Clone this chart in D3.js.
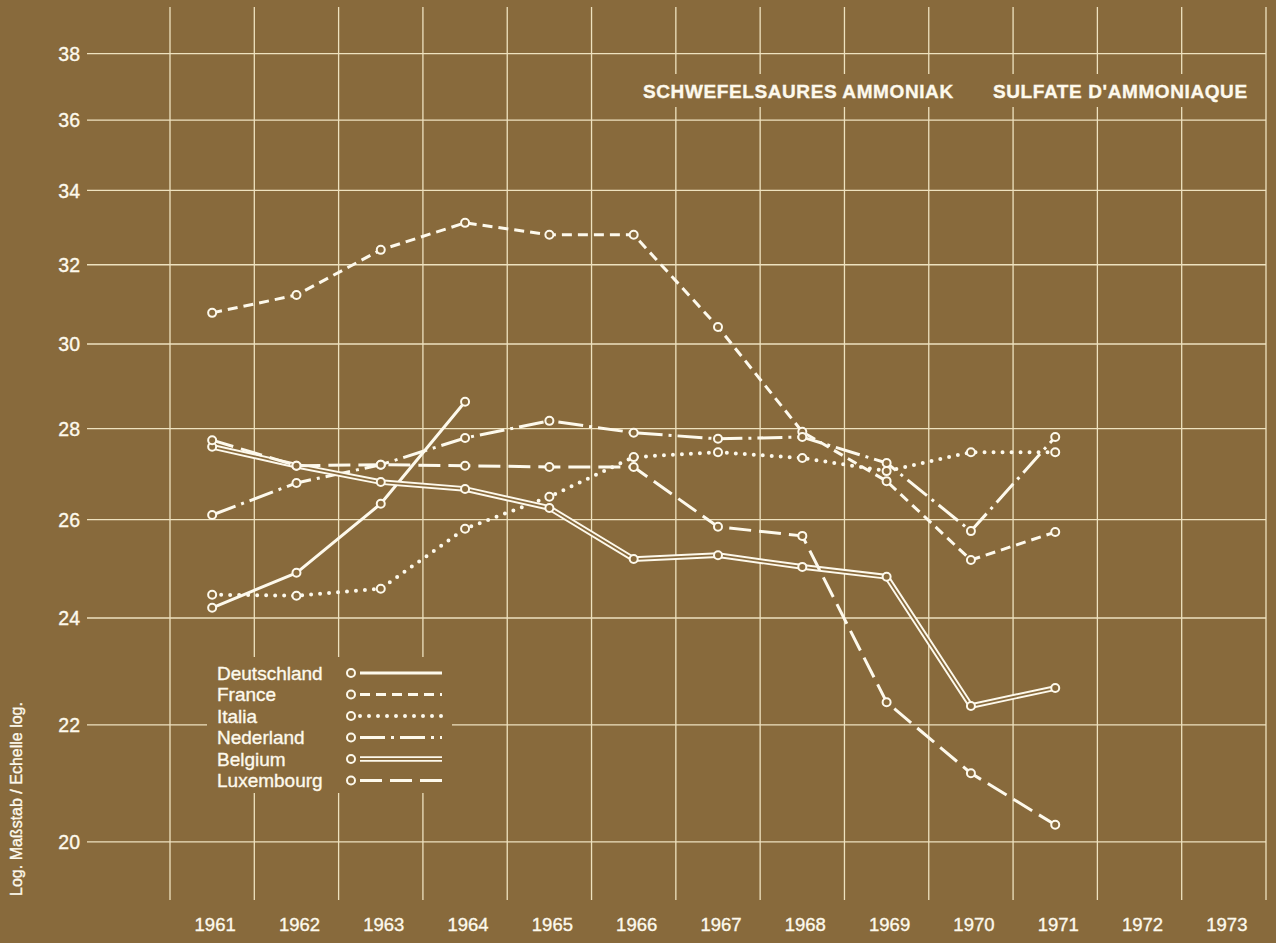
<!DOCTYPE html>
<html>
<head>
<meta charset="utf-8">
<script src="https://cdn.jsdelivr.net/npm/d3@7"></script>
<style>
  html, body { margin: 0; padding: 0; background: #886a3c; }
  svg { display: block; }
  text { font-family: "Liberation Sans", Arial, Helvetica, sans-serif; fill: #fdf9ec; stroke: #fdf9ec; stroke-width: 0.35px; }
</style>
</head>
<body>
<svg id="chart" width="1276" height="943"></svg>
<script>
// Years on the horizontal axis (one column per year)
const years = [1961, 1962, 1963, 1964, 1965, 1966, 1967, 1968, 1969, 1970, 1971, 1972, 1973];
// Logarithmic value axis ticks
const yTicks = [20, 22, 24, 26, 28, 30, 32, 34, 36, 38];

// Series values, starting in 1961
const deutschland = [24.20, 24.90, 26.34, 28.62];
const france      = [30.77, 31.22, 32.39, 33.11, 32.79, 32.79, 30.42, 27.93, 26.83, 25.16, 25.74];
const italia      = [24.46, 24.44, 24.58, 25.81, 26.49, 27.36, 27.47, 27.34, 27.05, 27.47, 27.47];
const nederland   = [26.10, 26.79, 27.19, 27.79, 28.18, 27.91, 27.77, 27.81, 27.23, 25.76, 27.81];
const belgium     = [27.59, 27.17, 26.81, 26.66, 26.25, 25.18, 25.26, 25.02, 24.82, 22.34, 22.67];
const luxembourg  = [27.74, 27.17, 27.19, 27.17, 27.14, 27.14, 25.85, 25.66, 22.41, 21.15, 20.28];

const countries = ["Deutschland", "France", "Italia", "Nederland", "Belgium", "Luxembourg"];
const seriesValues = [deutschland, france, italia, nederland, belgium, luxembourg];
const lineStyles = ["solid", "dash", "dot", "dashdot", "double", "longdash"];

const titleDe = "SCHWEFELSAURES AMMONIAK";
const titleFr = "SULFATE D'AMMONIAQUE";
const axisNote = "Log. Maßstab / Echelle log.";

const W = 1276, H = 943;
const bg = "#886a3c";
const ink = "#fdf9ec";
const gridCol = "#eee2bf";

const svg = d3.select("#chart");
svg.append("rect").attr("width", W).attr("height", H).attr("fill", bg);

const x = d3.scaleBand().domain(years).range([170, 1266]).padding(0);
const y = d3.scaleLog().domain([20, 38]).range([841.9, 53.7]);
const cx = d => x(d) + x.bandwidth() / 2;

// ---- grid ----
const grid = svg.append("g").attr("stroke", gridCol).attr("stroke-width", 1.3);
const edges = years.map(d => x(d)).concat([x.range()[1]]);
grid.selectAll("line.v").data(edges).join("line").attr("class", "v")
  .attr("x1", d => d).attr("x2", d => d).attr("y1", 7).attr("y2", 900);
grid.selectAll("line.h").data(yTicks).join("line").attr("class", "h")
  .attr("x1", 87).attr("x2", 1266).attr("y1", d => y(d)).attr("y2", d => y(d));

// gaps in the grid behind the title and the legend
svg.append("rect").attr("x", 632).attr("y", 74).attr("width", 630).attr("height", 33).attr("fill", bg);
svg.append("rect").attr("x", 207).attr("y", 657).attr("width", 245).attr("height", 136).attr("fill", bg);

// ---- axes (labels only) ----
const yAxis = svg.append("g").attr("transform", "translate(80,0)")
  .call(d3.axisLeft(y).tickValues(yTicks).tickFormat(d3.format("d")).tickSize(0).tickPadding(0));
yAxis.select(".domain").remove();
yAxis.attr("font-family", null).attr("font-size", 19.5);
yAxis.selectAll("text").attr("dy", "0.35em");

const xAxis = svg.append("g").attr("transform", "translate(0,925)")
  .call(d3.axisBottom(x).tickSize(0).tickPadding(0));
xAxis.select(".domain").remove();
xAxis.attr("font-family", null).attr("font-size", 18.5);
xAxis.selectAll("text").attr("y", 0).attr("dy", "0.35em").attr("dx", 3);

// ---- titles ----
svg.append("text").attr("x", 643).attr("y", 91).attr("dy", "0.35em")
  .attr("font-size", 19).attr("font-weight", "bold").attr("letter-spacing", 0.6).text(titleDe);
svg.append("text").attr("x", 993).attr("y", 91).attr("dy", "0.35em")
  .attr("font-size", 19).attr("font-weight", "bold").attr("letter-spacing", 0.6).text(titleFr);

svg.append("text").attr("transform", "translate(16,799) rotate(-90)")
  .attr("text-anchor", "middle").attr("dy", "0.35em").attr("font-size", 16).text(axisNote);

// ---- line styling ----
function styleLine(sel, style) {
  sel.attr("fill", "none").attr("stroke", ink).attr("stroke-width", 3)
     .attr("stroke-linejoin", "round");
  if (style === "dash") sel.attr("stroke-dasharray", "10 6");
  if (style === "dot") sel.attr("stroke-width", 4).attr("stroke-linecap", "round").attr("stroke-dasharray", "0 9");
  if (style === "dashdot") sel.attr("stroke-dasharray", "25 6 3 6");
  if (style === "longdash") sel.attr("stroke-dasharray", "22 8");
}
function drawStyled(parent, d, style) {
  if (style === "double") {
    parent.append("path").attr("d", d).attr("fill", "none").attr("stroke", ink).attr("stroke-width", 5.6);
    parent.append("path").attr("d", d).attr("fill", "none").attr("stroke", bg).attr("stroke-width", 1.8);
  } else {
    styleLine(parent.append("path").attr("d", d), style);
  }
}

const data = countries.map((name, i) => ({
  name, style: lineStyles[i],
  points: seriesValues[i].map((v, j) => ({ year: years[j], value: v }))
}));

const line = d3.line().x(p => cx(p.year)).y(p => y(p.value));

const gLines = svg.append("g");
data.forEach(s => drawStyled(gLines, line(s.points), s.style));

const gDots = svg.append("g");
data.forEach(s => {
  gDots.selectAll(null).data(s.points).join("circle")
    .attr("cx", p => cx(p.year)).attr("cy", p => y(p.value)).attr("r", 4)
    .attr("fill", bg).attr("stroke", ink).attr("stroke-width", 2);
});

// ---- legend ----
const legendRows = d3.scaleLinear().domain([0, 5]).range([673, 780.5]);
const legend = svg.append("g");
data.forEach((s, i) => {
  const ry = legendRows(i);
  legend.append("text").attr("x", 217).attr("y", ry).attr("dy", "0.35em")
    .attr("font-size", 19).text(s.name);
  drawStyled(legend, `M360,${ry}L442,${ry}`, s.style);
  legend.append("circle").attr("cx", 351).attr("cy", ry).attr("r", 4)
    .attr("fill", bg).attr("stroke", ink).attr("stroke-width", 2);
});
</script>
</body>
</html>
